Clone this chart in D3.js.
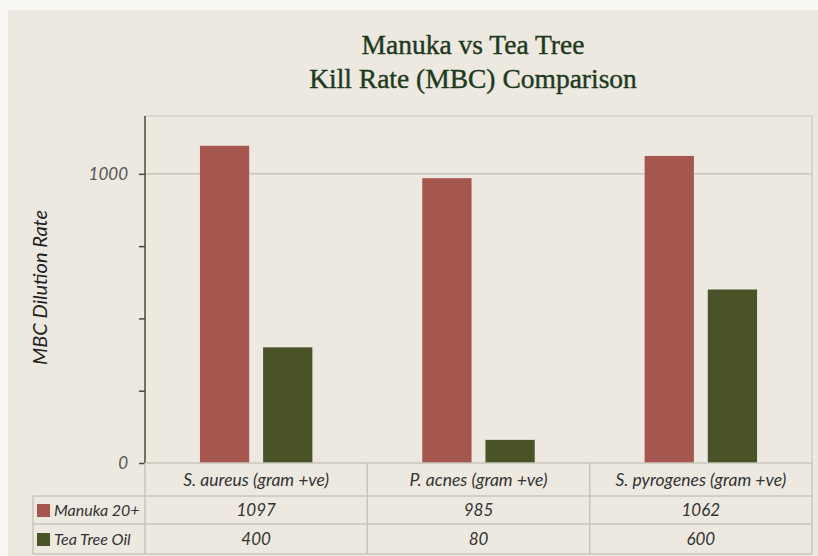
<!DOCTYPE html>
<html>
<head>
<meta charset="utf-8">
<script src="https://cdn.jsdelivr.net/npm/d3@7"></script>
<style>
  body { margin: 0; background: #f7f6f2; }
  svg { display: block; }
  .tbl text { font-family: Lato, "Open Sans", sans-serif; font-style: italic; fill: #333; }
</style>
</head>
<body>
<svg id="chart" width="818" height="556"></svg>
<script>
// chart data
const categories = ["S. aureus (gram +ve)", "P. acnes (gram +ve)", "S. pyrogenes (gram +ve)"];
const seriesNames = ["Manuka 20+", "Tea Tree Oil"];
const manuka = [1097, 985, 1062];
const teaTree = [400, 80, 600];
const tickValues = [0, 250, 500, 750, 1000];
const tickLabels = ["0", "", "", "", "1000"];
const colors = ["#a5564f", "#4a5228"];

const series = [manuka, teaTree];

const svg = d3.select("#chart");
const W = 818, H = 556;
const m = { left: 145, right: 812, top: 116, bottom: 463 };

// beige panel
svg.append("rect")
    .attr("x", 8).attr("y", 10)
    .attr("width", W - 8).attr("height", H - 10)
    .attr("fill", "#ede9e0");

// title
const title = svg.append("text")
    .attr("text-anchor", "middle")
    .attr("font-family", "'Liberation Serif', serif")
    .attr("font-size", 27.5)
    .attr("fill", "#1e3a1e")
    .attr("stroke", "#1e3a1e")
    .attr("stroke-width", 0.4);
title.append("tspan").attr("x", 473).attr("y", 54).text("Manuka vs Tea Tree");
title.append("tspan").attr("x", 473).attr("y", 88).text("Kill Rate (MBC) Comparison");

const x = d3.scaleBand().domain(categories).range([m.left, m.right]);
const x1 = d3.scaleBand().domain(seriesNames).range([0, x.bandwidth()])
    .paddingInner(0.22).paddingOuter(0.87);
const y = d3.scaleLinear().domain([0, 1200]).range([m.bottom, m.top]);

// plot border (top / right)
svg.append("path")
    .attr("d", `M${m.left},${m.top}H${m.right}V${m.bottom}`)
    .attr("fill", "none")
    .attr("stroke", "#cac6bd")
    .attr("stroke-width", 1.2);

// gridline at 1000
svg.append("line")
    .attr("x1", m.left).attr("x2", m.right)
    .attr("y1", y(1000)).attr("y2", y(1000))
    .attr("stroke", "#cac6bd").attr("stroke-width", 1.5);

// bars
const groups = svg.append("g").selectAll("g")
    .data(categories)
    .join("g")
    .attr("transform", d => `translate(${x(d)},0)`);

groups.selectAll("rect")
    .data((d, i) => seriesNames.map((s, j) => ({ s, v: series[j][i], j })))
    .join("rect")
    .attr("x", d => x1(d.s))
    .attr("width", x1.bandwidth())
    .attr("y", d => y(d.v))
    .attr("height", d => y(0) - y(d.v))
    .attr("fill", d => colors[d.j]);

// y axis
const yAxis = svg.append("g")
    .attr("transform", `translate(${m.left},0)`)
    .call(d3.axisLeft(y).tickValues(tickValues)
        .tickFormat((d, i) => tickLabels[i]).tickSize(6).tickPadding(11));
yAxis.select(".domain").attr("stroke", "#4a4a34").attr("stroke-width", 1.5)
    .attr("d", `M0,${m.top}V${m.bottom}`);
yAxis.selectAll(".tick line").attr("stroke", "#4a4a34").attr("stroke-width", 1.5);
yAxis.selectAll(".tick text")
    .attr("font-family", "Lato, sans-serif")
    .attr("font-style", "italic")
    .attr("font-size", 17)
    .attr("fill", "#555");

// y axis title
svg.append("text")
    .attr("transform", `translate(47,${(m.top + m.bottom) / 2 - 2}) rotate(-90)`)
    .attr("text-anchor", "middle")
    .attr("font-family", "Lato, sans-serif")
    .attr("font-style", "italic")
    .attr("font-size", 20)
    .attr("fill", "#222")
    .text("MBC Dilution Rate");

// data table below axis
const tbl = svg.append("g").attr("class", "tbl");
const rowY = [463, 496, 524, 554];
const tblLeft = 33;
const lineCol = "#c8c4bb";

// horizontal lines
tbl.append("line").attr("x1", m.left).attr("x2", m.right)
    .attr("y1", rowY[0]).attr("y2", rowY[0]).attr("stroke", lineCol).attr("stroke-width", 1.5);
rowY.slice(1).forEach(yy => {
    tbl.append("line").attr("x1", tblLeft).attr("x2", m.right)
        .attr("y1", yy).attr("y2", yy).attr("stroke", lineCol).attr("stroke-width", 1.5);
});
// vertical lines
tbl.append("line").attr("x1", tblLeft).attr("x2", tblLeft)
    .attr("y1", rowY[1]).attr("y2", rowY[3]).attr("stroke", lineCol).attr("stroke-width", 1.5);
[m.left, ...categories.map(c => x(c) + x.bandwidth())].forEach(xx => {
    tbl.append("line").attr("x1", xx).attr("x2", xx)
        .attr("y1", rowY[0]).attr("y2", rowY[3]).attr("stroke", lineCol).attr("stroke-width", 1.5);
});

// category labels
tbl.selectAll("text.cat")
    .data(categories)
    .join("text")
    .attr("class", "cat")
    .attr("x", d => x(d) + x.bandwidth() / 2)
    .attr("y", (rowY[0] + rowY[1]) / 2 + 6)
    .attr("text-anchor", "middle")
    .attr("font-size", 17.5)
    .text(d => d);

// series rows
seriesNames.forEach((name, j) => {
    const cy = (rowY[j + 1] + rowY[j + 2]) / 2;
    tbl.append("rect")
        .attr("x", 37).attr("y", cy - 6)
        .attr("width", 13).attr("height", 13)
        .attr("fill", colors[j]);
    tbl.append("text")
        .attr("x", 54).attr("y", cy + 6)
        .attr("font-size", 16)
        .attr("fill", "#222")
        .text(name);
    tbl.selectAll(null)
        .data(series[j])
        .join("text")
        .attr("x", (d, i) => x(categories[i]) + x.bandwidth() / 2)
        .attr("y", cy + 6)
        .attr("text-anchor", "middle")
        .attr("font-size", 17)
        .text(d => d);
});
</script>
</body>
</html>
